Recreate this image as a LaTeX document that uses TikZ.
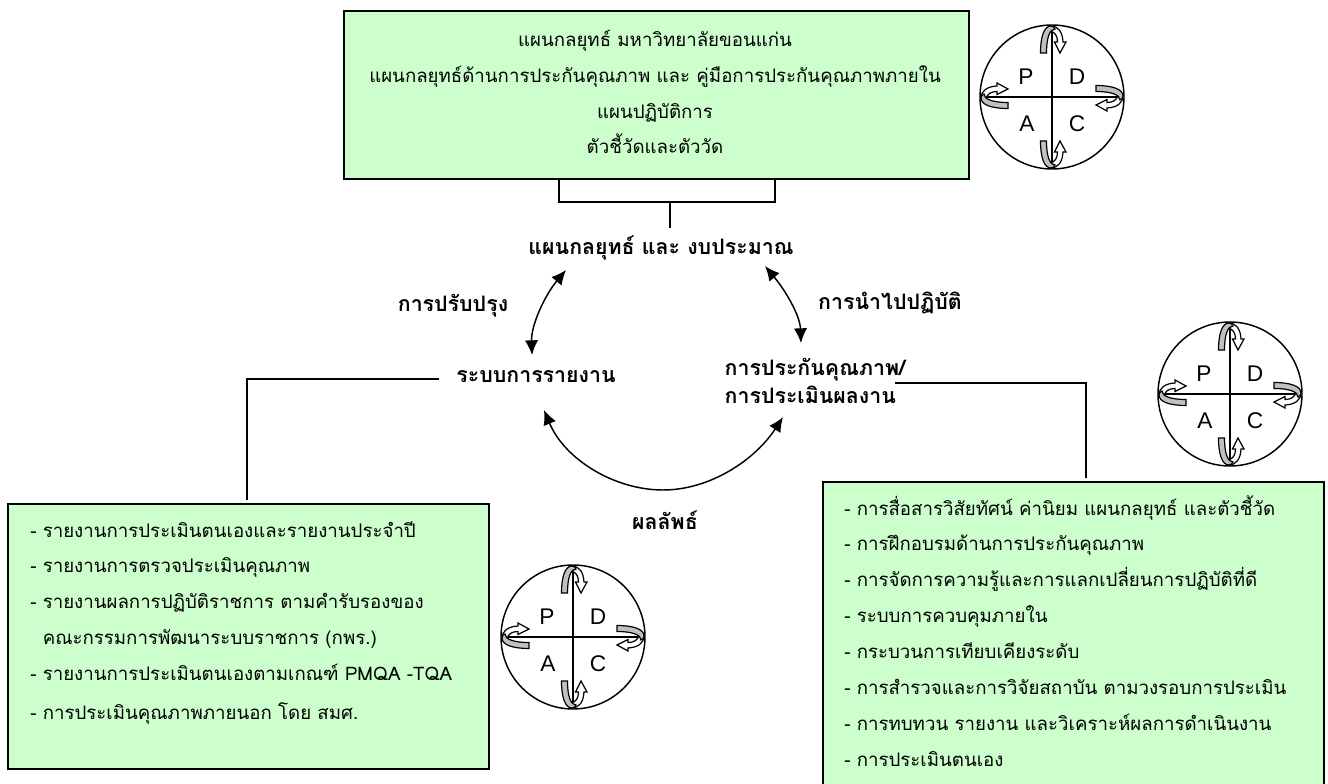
\documentclass[tikz,border=0pt]{standalone}
\usepackage{fontspec}
\setmainfont{Liberation Sans}
\newfontfamily\thai[Script=Thai]{Loma}
\usetikzlibrary{positioning,calc,arrows.meta}
\definecolor{boxgreen}{HTML}{CCFFCC}
\definecolor{ribbon}{HTML}{C0C0C0}
\tikzset{
  x=0.75pt,y=-0.75pt,
  panel/.style={draw,line width=1.3pt,fill=boxgreen,inner sep=0pt,anchor=north west},
  plain/.style={font=\thai\fontsize{14}{26.9}\selectfont,align=left,inner sep=0pt},
  head/.style={font=\thai\bfseries\fontsize{16}{21.5}\selectfont,align=left,inner sep=0pt},
  link/.style={line width=1pt},
  cycle/.style={line width=1.1pt,{Latex[length=11pt,width=10pt]}-{Latex[length=11pt,width=10pt]}},
}
% one curled arrow of the wheel, drawn pointing up
\newcommand{\curl}[1]{
  \begin{scope}[#1]
    \draw[fill=white,line width=0.9pt] (-1,-71) .. controls (6,-71) and (10.5,-65) .. (11,-55) -- (14,-55) -- (8,-44)
      -- (2.5,-55) -- (5.5,-55) .. controls (5.5,-61) and (3,-65) .. (-2,-66) -- cycle;
    \fill[ribbon,draw=black,line width=0.9pt] (-11.5,-44) .. controls (-11.5,-60) and (-8,-71) .. (-1,-71)
      .. controls (1,-71) and (2,-70) .. (3,-68) .. controls (-2,-68) and (-5.5,-60) .. (-5.5,-44) -- cycle;
  \end{scope}
}
\tikzset{
  wheel/.pic={
    \draw[line width=1.1pt] (0,0) circle (72);
    \draw[line width=1.1pt] (-70,0) -- (70,0) (0,-70) -- (0,70);
    \node[font=\fontsize{17}{17}\selectfont] (-p) at (-26,-20) {P};
    \node[font=\fontsize{17}{17}\selectfont] (-d) at (25,-20) {D};
    \node[font=\fontsize{17}{17}\selectfont] (-a) at (-25,27) {A};
    \node[font=\fontsize{17}{17}\selectfont] (-c) at (25,27) {C};
    \curl{}
    \curl{rotate=90}
    \curl{rotate=-90}
    \curl{yscale=-1}
  }
}
\begin{document}
\begin{tikzpicture}
  \useasboundingbox (0,0) rectangle (1328,784);
  \clip (0,0) rectangle (1328,784);

  \node[panel,minimum width=625*0.75pt,minimum height=168*0.75pt] (plans) at (343,10) {};
  \node[plain,align=center] (planstext) at (655,92) {แผนกลยุทธ์ มหาวิทยาลัยขอนแก่น\\
    แผนกลยุทธ์ด้านการประกันคุณภาพ และ คู่มือการประกันคุณภาพภายใน\\
    แผนปฏิบัติการ\\
    ตัวชี้วัดและตัววัด};

  \node[panel,minimum width=481*0.75pt,minimum height=265*0.75pt] (reports) at (7,503) {};
  \node[plain,anchor=north west] (reportstext) at (30,521) {- รายงานการประเมินตนเองและรายงานประจำปี\\
    - รายงานการตรวจประเมินคุณภาพ\\
    - รายงานผลการปฏิบัติราชการ ตามคำรับรองของ\\
    \phantom{- }คณะกรรมการพัฒนาระบบราชการ (กพร.)\\
    - รายงานการประเมินตนเองตามเกณฑ์ PMQA -TQA\\[2pt]
    - การประเมินคุณภาพภายนอก โดย สมศ.};

  \node[panel,minimum width=501*0.75pt,minimum height=320*0.75pt] (quality) at (822,481) {};
  \node[plain,anchor=north west] (qualitytext) at (844,495) {- การสื่อสารวิสัยทัศน์ ค่านิยม แผนกลยุทธ์ และตัวชี้วัด\\
    - การฝึกอบรมด้านการประกันคุณภาพ\\
    - การจัดการความรู้และการแลกเปลี่ยนการปฏิบัติที่ดี\\
    - ระบบการควบคุมภายใน\\
    - กระบวนการเทียบเคียงระดับ\\
    - การสำรวจและการวิจัยสถาบัน ตามวงรอบการประเมิน\\
    - การทบทวน รายงาน และวิเคราะห์ผลการดำเนินงาน\\
    - การประเมินตนเอง};

  \node[head] (budget) at (661,248) {แผนกลยุทธ์ และ งบประมาณ};
  \node[head] (report) at (536,377) {ระบบการรายงาน};
  \node[head] (assure) at (815,381) {การประกันคุณภาพ/\\การประเมินผลงาน};
  \node[head] (improve) at (453,306) {การปรับปรุง};
  \node[head] (apply) at (890,303) {การนำไปปฏิบัติ};
  \node[head] (result) at (665,520) {ผลลัพธ์};

  \coordinate (tee) at (670,202);
  \draw[link] (plans.south -| 559,0) -- (559,202) -- (775,202) -- (plans.south -| 775,0);
  \draw[link] (tee) -- (670,228);
  \draw[link] (439,379) -- (247,379) -- (247,500);
  \draw[link] (895,383) -- (1086,383) -- (1086,478);

  \draw[cycle] (532,355) .. controls (531,325) and (545,295) .. (566,270);
  \draw[cycle] (765,266) .. controls (785,290) and (800,315) .. (801,343);
  \draw[cycle] (544,410) .. controls (565,460) and (615,490) .. (663,490)
    .. controls (710,490) and (755,460) .. (783,417);

  \pic (wheelplan) at (1052,97) {wheel};
  \pic (wheelassure) at (1230,394) {wheel};
  \pic (wheelreport) at (573,637) {wheel};
\end{tikzpicture}
\end{document}
